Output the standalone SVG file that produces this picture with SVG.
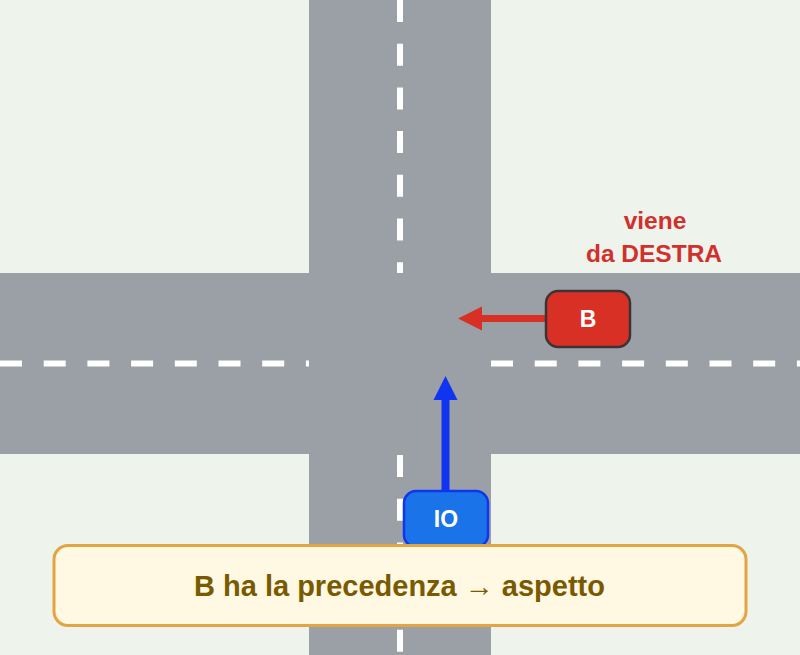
<svg xmlns="http://www.w3.org/2000/svg" width="800" height="655" viewBox="0 0 800 655">
<style>
.lane{stroke:#ffffff;stroke-width:6;stroke-dasharray:22 21.7;fill:none}
.car{stroke-width:2.5}
.lbl{font-family:"Liberation Sans",Arial,sans-serif;font-weight:bold;text-anchor:middle}
</style>
<rect width="800" height="655" fill="#eef3eb"/>
<g id="roads">
<rect x="309" y="0" width="182" height="655" fill="#9aa0a6"/>
<rect x="0" y="273" width="800" height="181" fill="#9aa0a6"/>
<line class="lane" x1="400" y1="0" x2="400" y2="273"/>
<line class="lane" x1="400" y1="455" x2="400" y2="655"/>
<line class="lane" x1="0" y1="363.5" x2="309" y2="363.5"/>
<line class="lane" x1="491" y1="363.5" x2="800" y2="363.5"/>
</g>
<g id="connectors">
<line x1="546" y1="318.5" x2="478" y2="318.5" stroke="#d93025" stroke-width="7"/>
<polygon points="458,318.5 482,306.5 482,330.5" fill="#d93025"/>
<line x1="445.5" y1="491" x2="445.5" y2="396" stroke="#1034f0" stroke-width="8"/>
<polygon points="445.5,376 433.5,400 457.5,400" fill="#1034f0"/>
</g>
<g id="label-destra">
<text class="lbl" x="655" y="229" font-size="24.5" fill="#d0312d">viene</text>
<text class="lbl" x="654" y="262" font-size="24.5" fill="#d0312d">da DESTRA</text>
</g>
<g id="car-B">
<rect class="car" x="546" y="291" width="84" height="56" rx="12" fill="#d93025" stroke="#3c3434"/>
<text class="lbl" x="588" y="327" font-size="23" fill="#ffffff">B</text>
</g>
<g id="car-IO">
<rect class="car" x="404" y="491" width="84" height="56" rx="12" fill="#1a73e8" stroke="#1034f0"/>
<text class="lbl" x="446" y="527" font-size="23" fill="#ffffff">IO</text>
</g>
<g id="caption">
<rect x="54" y="545.5" width="692" height="80" rx="14" fill="#fff8e3" stroke="#e3a444" stroke-width="3"/>
<text class="lbl" x="399.5" y="596" font-size="29" fill="#7a5a00">B ha la precedenza → aspetto</text>
</g>
</svg>
